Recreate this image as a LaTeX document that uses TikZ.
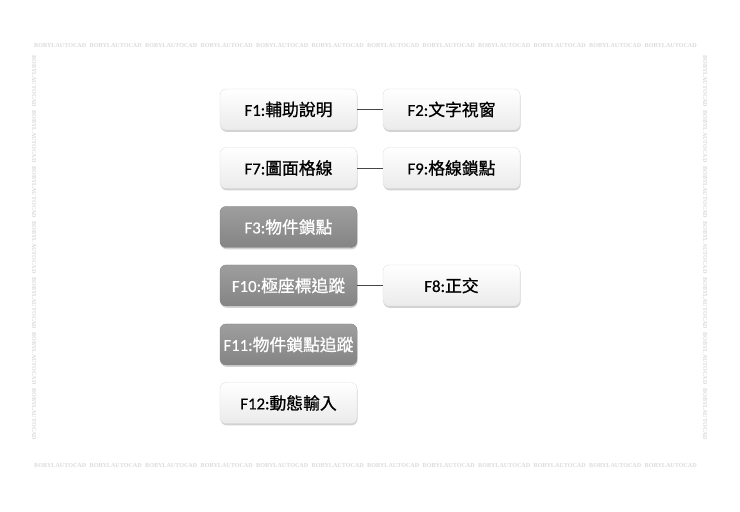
\documentclass[tikz,border=0pt]{standalone}
\usepackage{fontspec}
\setmainfont{Carlito}[FakeBold=0.5]
\newfontfamily\cjk{Noto Sans CJK TC}[FakeBold=0.9]
\newfontfamily\markfont{Liberation Serif}
\usetikzlibrary{shadows}
\definecolor{keygray}{RGB}{158,158,158}
\definecolor{keydark}{RGB}{132,132,132}
\definecolor{linegray}{RGB}{70,70,70}
\tikzset{
  keybox/.style={rounded corners=6pt, minimum width=137pt, minimum height=41pt,
    draw=gray!25, top color=white, bottom color=gray!16, inner sep=0pt,
    font=\fontsize{16.8}{18}\selectfont,
    drop shadow={shadow xshift=0.6pt, shadow yshift=-1.8pt, opacity=0.35, fill=gray}},
  keyon/.style={keybox, draw=keydark, top color=keygray, bottom color=keydark, text=white},
  keylink/.style={draw=linegray, line width=0.8pt},
  markword/.style={text=gray!28, inner sep=0pt, font=\markfont\bfseries\fontsize{6.1}{6.1}\selectfont}
}
\begin{document}
\begin{tikzpicture}[x=1pt,y=1pt]
    \useasboundingbox (0,0) rectangle (740,512);
    \fill[white] (0,0) rectangle (740,512);
    % watermark frame
    \foreach \i in {0,...,11} {
        \node[markword, anchor=west] at (34+\i*55.5,466) {BOBYLAUTOCAD};
        \node[markword, anchor=west] at (34+\i*55.5,46) {BOBYLAUTOCAD};
    }
    \foreach \i in {0,...,6} {
        \node[markword, anchor=west, rotate=-90] at (34,457-\i*55.5) {BOBYLAUTOCAD};
        \node[markword, anchor=west, rotate=-90] at (705,457-\i*55.5) {BOBYLAUTOCAD};
    }
    % function keys
    \node[keybox] (f1) at (288.5,402.5) {F1:\cjk 輔助說明};
    \node[keybox] (f2) at (451.5,402.5) {F2:\cjk 文字視窗};
    \node[keybox] (f7) at (288.5,344) {F7:\cjk 圖面格線};
    \node[keybox] (f9) at (451.5,344) {F9:\cjk 格線鎖點};
    \node[keyon] (f3) at (288.5,285) {F3:\cjk 物件鎖點};
    \node[keyon] (f10) at (288.5,226.5) {F10:\cjk 極座標追蹤};
    \node[keybox] (f8) at (451.5,226.5) {F8:\cjk 正交};
    \node[keyon] (f11) at (288.5,167.5) {F11:\cjk 物件鎖點追蹤};
    \node[keybox] (f12) at (288.5,109) {F12:\cjk 動態輸入};
    \draw[keylink] (f1) -- (f2);
    \draw[keylink] (f7) -- (f9);
    \draw[keylink] (f10) -- (f8);
\end{tikzpicture}
\end{document}
